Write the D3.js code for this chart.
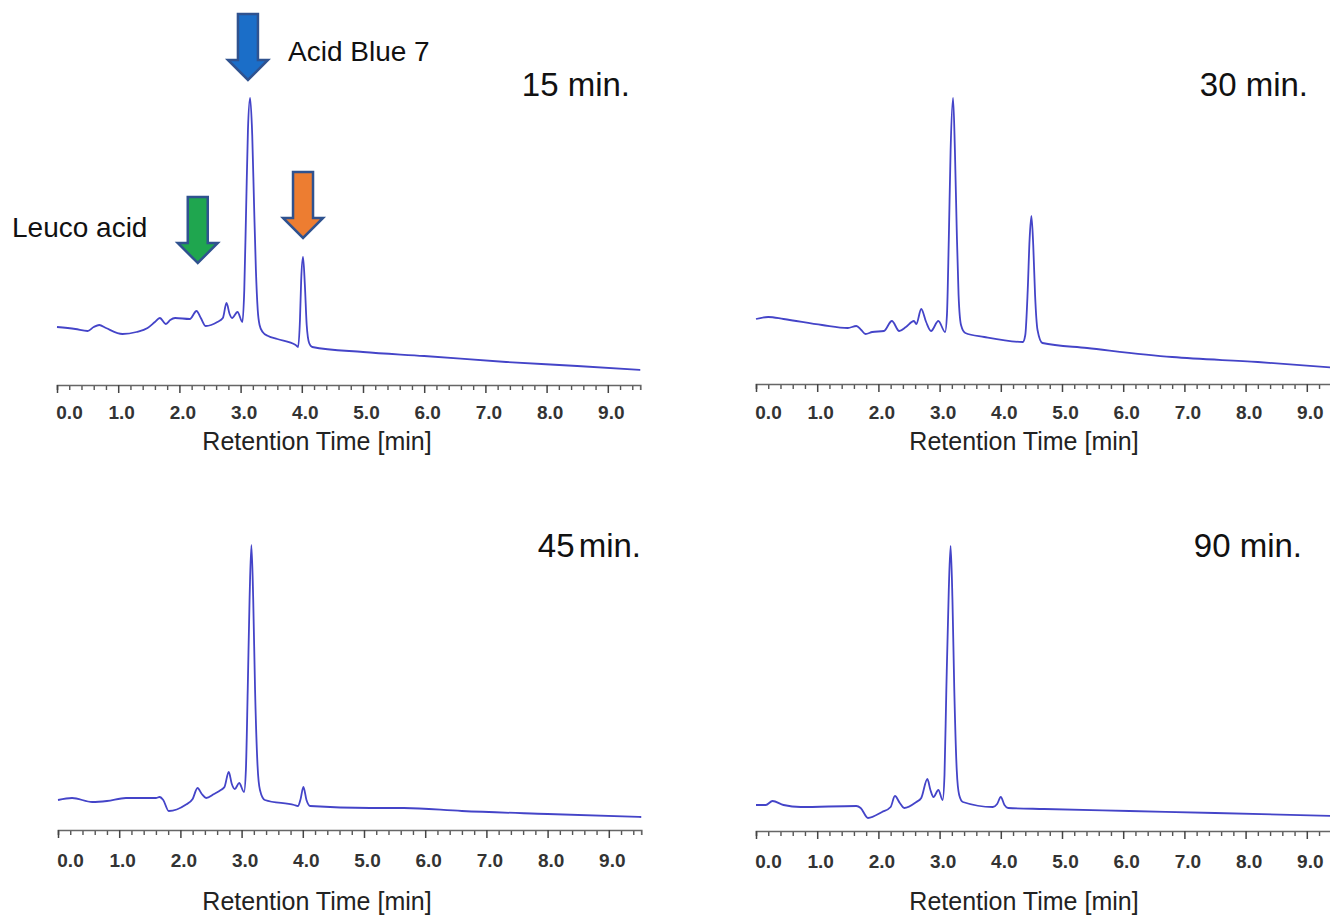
<!DOCTYPE html>
<html>
<head>
<meta charset="utf-8">
<script src="https://cdn.jsdelivr.net/npm/d3@7"></script>
<style>
  html, body { margin: 0; padding: 0; background: #fff; }
  svg { display: block; font-family: "Liberation Sans", Arial, sans-serif; }
</style>
</head>
<body>
<svg id="chart" width="1330" height="915"></svg>
<script>
// ---------- DATA (retention time in min, detector signal in arbitrary units) ----------
const tickValues = [0, 1, 2, 3, 4, 5, 6, 7, 8, 9];
const axisTitle = "Retention Time [min]";

const time15 = [0.0, 0.3, 0.5, 0.6, 0.69, 0.8, 1.07, 1.3, 1.48, 1.6, 1.68, 1.78, 1.85, 1.93, 2.17, 2.28, 2.35, 2.43, 2.62, 2.71, 2.77, 2.82, 2.86, 2.95, 3.03, 3.06, 3.09, 3.12, 3.155, 3.19, 3.22, 3.25, 3.28, 3.31, 3.36, 3.45, 3.6, 3.9, 3.94, 3.97, 3.99, 4.02, 4.05, 4.08, 4.12, 4.17, 5.0, 6.0, 7.34, 8.5, 9.53];
const signal15 = [58, 56, 54, 58, 60, 57, 51, 53, 57, 63, 67, 61, 65, 67, 66, 74, 67, 59, 63, 67, 82, 71, 67, 73, 63, 95, 175, 255, 287, 250, 180, 115, 75, 60, 53, 49, 46, 40, 38, 65, 105, 128, 100, 60, 42, 38, 33, 29, 23, 19, 15];

const time30 = [0.0, 0.2, 0.45, 1.08, 1.5, 1.64, 1.72, 1.79, 1.9, 2.09, 2.22, 2.34, 2.45, 2.58, 2.62, 2.70, 2.78, 2.86, 2.98, 3.09, 3.12, 3.15, 3.18, 3.22, 3.25, 3.28, 3.31, 3.35, 3.42, 3.73, 4.36, 4.40, 4.44, 4.47, 4.50, 4.53, 4.56, 4.60, 4.68, 5.41, 6.8, 8.2, 9.53];
const signal30 = [65, 67, 65, 59, 56, 58, 54, 50, 52, 53, 63, 53, 57, 63, 60, 75, 62, 53, 63, 52, 69, 144, 234, 286, 234, 154, 89, 59, 51, 47, 42, 49, 94, 144, 168, 139, 89, 54, 41, 36, 27, 22, 16];

const time45 = [0.0, 0.23, 0.56, 0.8, 1.11, 1.6, 1.66, 1.72, 1.81, 2.08, 2.2, 2.28, 2.35, 2.42, 2.55, 2.66, 2.72, 2.79, 2.84, 2.89, 2.96, 3.04, 3.07, 3.10, 3.13, 3.16, 3.19, 3.22, 3.26, 3.30, 3.38, 3.86, 3.92, 3.96, 4.01, 4.06, 4.12, 5.1, 5.65, 6.6, 8.0, 9.53];
const signal45 = [30, 32, 28, 29, 32, 32, 33, 30, 19, 25, 31, 42, 36, 32, 36, 40, 43, 58, 46, 41, 47, 38, 60, 140, 230, 285, 230, 140, 65, 40, 30, 25, 24, 30, 43, 30, 24, 22, 22, 19, 16, 13];

const time90 = [0.0, 0.16, 0.27, 0.45, 0.73, 1.64, 1.71, 1.83, 2.06, 2.2, 2.27, 2.35, 2.42, 2.62, 2.7, 2.8, 2.85, 2.9, 2.98, 3.05, 3.08, 3.11, 3.15, 3.18, 3.21, 3.24, 3.28, 3.32, 3.38, 3.87, 3.94, 4.0, 4.06, 4.12, 4.71, 6.1, 7.5, 9.53];
const signal90 = [26, 26, 30, 26, 24, 25, 23, 13, 19, 24, 35, 28, 23, 29, 33, 52, 41, 34, 41, 31, 56, 141, 241, 285, 231, 141, 61, 36, 29, 24, 27, 34, 26, 23, 22, 20, 18, 15];

const panelLabels = ["15 min.", "30 min.", "45 min.", "90 min."];

// arrows in the 15 min. panel: retention time, signal level of the tip
const arrowTimes = [3.12, 2.30, 4.02];
const arrowTips = [305, 122, 147];
const arrowColors = ["#1b6ec8", "#1fa64f", "#ed7d31"];

// ---------- LAYOUT ----------
const pxPerMin = 61.2;
const tMax = 9.53;
const panels = [
  { label: panelLabels[0], t: time15, v: signal15, x0: 57,  axisY: 385, labelX: 630,  labelY: 96,  titleX: 317,  titleY: 450, pad: 13 },
  { label: panelLabels[1], t: time30, v: signal30, x0: 756, axisY: 384, labelX: 1308, labelY: 96,  titleX: 1024, titleY: 450, pad: 14 },
  { label: panelLabels[2], t: time45, v: signal45, x0: 58,  axisY: 830, labelX: 641,  labelY: 557, titleX: 317,  titleY: 910, pad: 16 },
  { label: panelLabels[3], t: time90, v: signal90, x0: 756, axisY: 831, labelX: 1302, labelY: 557, titleX: 1024, titleY: 910, pad: 16 }
];

const svg = d3.select("#chart");

const minorTicks = d3.range(0, 9.6, 0.2).filter(d => d <= tMax && Math.abs(d - Math.round(d)) > 1e-6);

panels.forEach((p, i) => {
  const x = d3.scaleLinear().domain([0, tMax]).range([p.x0, p.x0 + tMax * pxPerMin]);
  const y = d3.scaleLinear().domain([0, 300]).range([p.axisY, p.axisY - 300]);
  const g = svg.append("g").attr("class", "panel");

  // minor ticks
  const minor = g.append("g")
    .attr("transform", `translate(0,${p.axisY})`)
    .call(d3.axisBottom(x).tickValues(minorTicks).tickSize(5).tickSizeOuter(5).tickFormat(""));
  minor.select(".domain").remove();
  minor.selectAll("line").attr("stroke", "#555").attr("stroke-width", 1.4);

  // major ticks + labels
  const major = g.append("g")
    .attr("transform", `translate(0,${p.axisY})`)
    .call(d3.axisBottom(x).tickValues(tickValues).tickSize(8).tickSizeOuter(5)
      .tickPadding(p.pad).tickFormat(d3.format(".1f")));
  major.select(".domain").attr("stroke", "#666").attr("stroke-width", 1.7);
  major.selectAll(".tick line").attr("stroke", "#444").attr("stroke-width", 1.5);
  major.selectAll(".tick text")
    .attr("font-family", "'Liberation Sans', Arial, sans-serif")
    .attr("font-size", 19).attr("font-weight", "bold").attr("fill", "#333")
    .attr("dx", d => d === 0 ? 12 : 3);

  // axis title
  g.append("text")
    .attr("x", p.titleX).attr("y", p.titleY)
    .attr("text-anchor", "middle")
    .attr("font-size", 25).attr("fill", "#222")
    .text(axisTitle);

  // trace
  const pts = p.t.map((t, k) => [t, p.v[k]]);
  g.append("path")
    .datum(pts)
    .attr("fill", "none")
    .attr("stroke", "#4444c8")
    .attr("stroke-width", 1.8)
    .attr("stroke-linejoin", "round")
    .attr("d", d3.line().x(d => x(d[0])).y(d => y(d[1])).curve(d3.curveMonotoneX));

  // panel label
  g.append("text")
    .attr("x", p.labelX).attr("y", p.labelY)
    .attr("text-anchor", "end")
    .attr("font-size", 33).attr("fill", "#111")
    .attr("word-spacing", i === 2 ? -5 : 0)
    .text(p.label);

  if (i === 0) {
    // arrows
    const shaftW = 20, headW = 40, headH = 20, len = 66;
    const arrowPath = `M${-shaftW/2},${-len} L${shaftW/2},${-len} L${shaftW/2},${-headH} L${headW/2},${-headH} L0,0 L${-headW/2},${-headH} L${-shaftW/2},${-headH} Z`;
    arrowTimes.forEach((t, k) => {
      g.append("path")
        .attr("transform", `translate(${x(t)},${y(arrowTips[k])})`)
        .attr("d", arrowPath)
        .attr("fill", arrowColors[k])
        .attr("stroke", "#2f528f")
        .attr("stroke-width", 2.5)
        .attr("stroke-linejoin", "miter");
    });
    g.append("text").attr("x", 288).attr("y", 61)
      .attr("font-size", 28).attr("fill", "#111").text("Acid Blue 7");
    g.append("text").attr("x", 12).attr("y", 237)
      .attr("font-size", 28).attr("fill", "#111").text("Leuco acid");
  }
});
</script>
</body>
</html>
